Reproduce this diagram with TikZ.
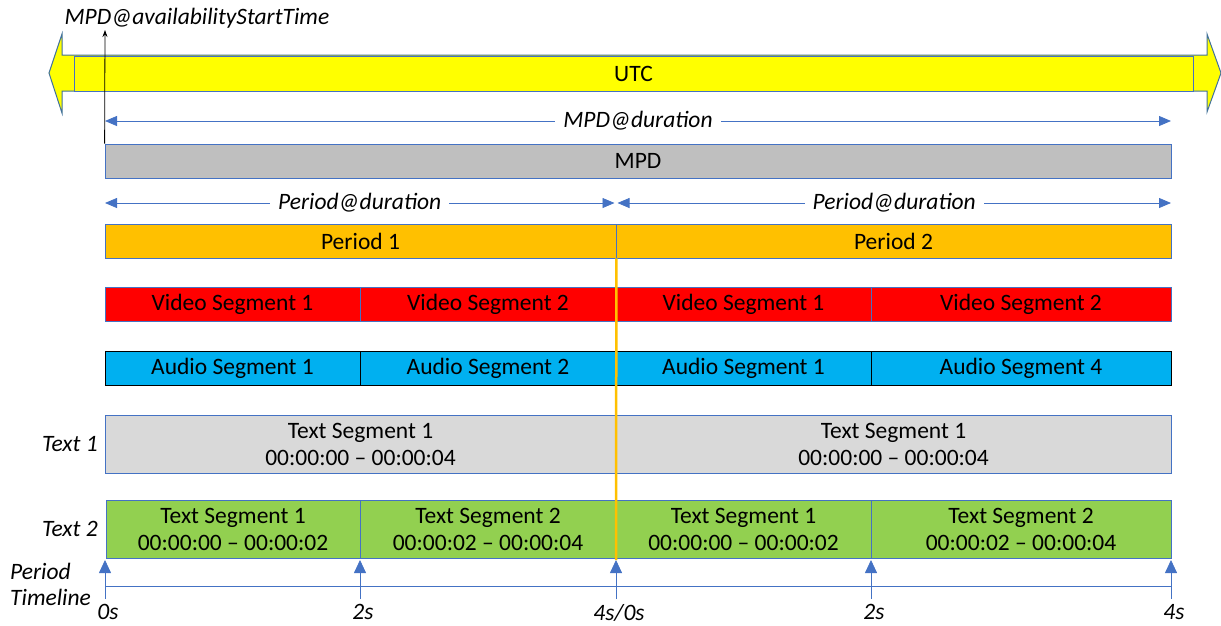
\documentclass[tikz,border=0pt]{standalone}
\usepackage{fontspec}
\setmainfont{Carlito}
\usetikzlibrary{arrows.meta}
\definecolor{edgeblue}{HTML}{4472C4}
\definecolor{darkedge}{HTML}{41719C}
\definecolor{utcyellow}{HTML}{FFFF00}
\definecolor{mpdgray}{HTML}{BFBFBF}
\definecolor{periodorange}{HTML}{FFC000}
\definecolor{videored}{HTML}{FF0000}
\definecolor{audioblue}{HTML}{00B0F0}
\definecolor{textgray}{HTML}{D9D9D9}
\definecolor{textgreen}{HTML}{92D050}
\tikzset{
  bar/.style={draw=edgeblue, line width=0.8pt, inner sep=0pt, anchor=center, align=center,
              font=\fontsize{23.5}{27}\selectfont},
  dimline/.style={draw=edgeblue, line width=0.8pt,
                  {Triangle[length=12pt,width=10pt]}-{Triangle[length=12pt,width=10pt]}},
  dimlabel/.style={fill=white, inner xsep=8pt, inner ysep=1pt, font=\fontsize{23.5}{27}\selectfont\itshape},
  sidelabel/.style={font=\fontsize{23.5}{27}\selectfont\itshape, inner sep=0pt},
  tick/.style={draw=edgeblue, line width=0.8pt, -{Triangle[length=13pt,width=12pt]}},
}
\begin{document}
\begin{tikzpicture}[x=1pt,y=-1pt]
\useasboundingbox (0,0) rectangle (1221,625);

% UTC double arrow
\draw[fill=utcyellow, draw=darkedge, line width=1pt]
  (49,73) -- (62,34) -- (62,55) -- (1207,55) -- (1207,34) -- (1221,73)
  -- (1207,112) -- (1207,91) -- (62,91) -- (62,113) -- cycle;
\node[bar, fill=utcyellow, minimum width=1119pt, minimum height=35pt] (utc) at (633.5,73.5) {UTC};

% MPD
\node[bar, fill=mpdgray, minimum width=1066pt, minimum height=34pt] (mpd) at (638,161) {MPD};
\coordinate (mpdL) at (105,121);
\coordinate (mpdR) at (1171,121);
\draw[dimline] (mpdL) -- (mpdR) node[midway, dimlabel] {MPD@duration};

% availability start time marker
\node[sidelabel] (ast) at (197,18) {MPD@availabilityStartTime};
\coordinate (astTip) at (105,30);
\draw[black, line width=0.8pt, -{Stealth[length=7pt,width=5pt]}] (mpd.north west) -- (astTip);

% Periods
\node[bar, fill=periodorange, minimum width=511pt, minimum height=34pt] (p1) at (360.5,241) {Period 1};
\node[bar, fill=periodorange, minimum width=555pt, minimum height=34pt] (p2) at (893.5,241) {Period 2};
\coordinate (pd1L) at (105,203);
\coordinate (pd1R) at (614.5,203);
\coordinate (pd2L) at (617.5,203);
\coordinate (pd2R) at (1171,203);
\draw[dimline] (pd1L) -- (pd1R) node[midway, dimlabel] {Period@duration};
\draw[dimline] (pd2L) -- (pd2R) node[midway, dimlabel] {Period@duration};

% Video segments
\node[bar, fill=videored, minimum width=255pt, minimum height=34pt] (v1) at (232.5,304) {Video Segment 1};
\node[bar, fill=videored, minimum width=256pt, minimum height=34pt] (v2) at (488,304) {Video Segment 2};
\node[bar, fill=videored, minimum width=255pt, minimum height=34pt] (v3) at (743.5,304) {Video Segment 1};
\node[bar, fill=videored, minimum width=300pt, minimum height=34pt] (v4) at (1021,304) {Video Segment 2};

% Audio segments
\node[bar, draw=black, fill=audioblue, minimum width=255pt, minimum height=34pt] (a1) at (232.5,368) {Audio Segment 1};
\node[bar, draw=black, fill=audioblue, minimum width=256pt, minimum height=34pt] (a2) at (488,368) {Audio Segment 2};
\node[bar, draw=black, fill=audioblue, minimum width=255pt, minimum height=34pt] (a3) at (743.5,368) {Audio Segment 1};
\node[bar, draw=black, fill=audioblue, minimum width=300pt, minimum height=34pt] (a4) at (1021,368) {Audio Segment 4};

% Text track 1
\node[sidelabel] (t1lab) at (70,444) {Text 1};
\node[bar, fill=textgray, minimum width=511pt, minimum height=58pt] (t1a) at (360.5,444)
  {Text Segment 1\\00:00:00 -- 00:00:04};
\node[bar, fill=textgray, minimum width=555pt, minimum height=58pt] (t1b) at (893.5,444)
  {Text Segment 1\\00:00:00 -- 00:00:04};

% Text track 2
\node[sidelabel] (t2lab) at (70,529) {Text 2};
\node[bar, fill=textgreen, minimum width=254pt, minimum height=58pt] (t2a) at (233,529)
  {Text Segment 1\\00:00:00 -- 00:00:02};
\node[bar, fill=textgreen, minimum width=256pt, minimum height=58pt] (t2b) at (488,529)
  {Text Segment 2\\00:00:02 -- 00:00:04};
\node[bar, fill=textgreen, minimum width=255pt, minimum height=58pt] (t2c) at (743.5,529)
  {Text Segment 1\\00:00:00 -- 00:00:02};
\node[bar, fill=textgreen, minimum width=300pt, minimum height=58pt] (t2d) at (1021,529)
  {Text Segment 2\\00:00:02 -- 00:00:04};

% Period timeline
\node[sidelabel, align=left, anchor=west, font=\fontsize{23.5}{26}\selectfont\itshape] (ptl) at (10,584) {Period\\Timeline};
\coordinate (tlL) at (105,586);
\coordinate (tlR) at (1171,586);
\draw[draw=edgeblue, line width=0.8pt] (tlL) -- (tlR);
\foreach \x/\lab/\name in {105/0s/k0, 360/2s/k1, 616/4s\slash 0s/k2, 871/2s/k3, 1171/4s/k4} {
  \coordinate (\name b) at (\x,599);
  \coordinate (\name t) at (\x,560);
  \draw[tick] (\name b) -- (\name t);
  \node[sidelabel, anchor=north] at ([xshift=3pt,yshift=-5pt]\name b) {\lab};
}

% Period boundary marker
\draw[periodorange, line width=2.5pt] (p1.south east) -- (k2t);
\end{tikzpicture}
\end{document}
